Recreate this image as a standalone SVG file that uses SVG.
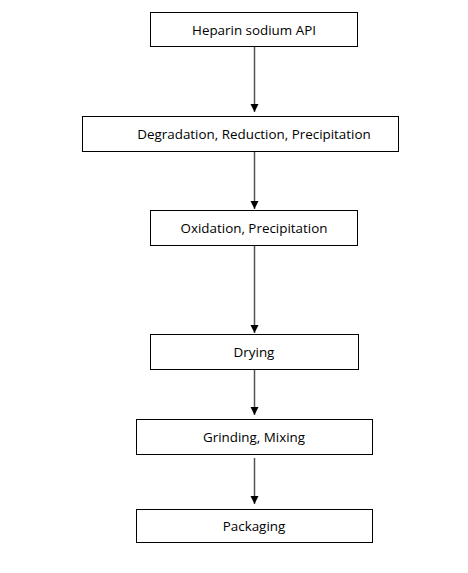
<svg xmlns="http://www.w3.org/2000/svg" width="468" height="573" viewBox="0 0 468 573">
<defs>
<marker id="ah" markerWidth="10" markerHeight="10" refX="8" refY="4" orient="auto" markerUnits="userSpaceOnUse">
<path d="M0,0 L8,4 L0,8 Z" fill="#000"/>
</marker>
<style>
.box{fill:#fff;stroke:#000;stroke-width:1}
.lbl{font-family:"Open Sans","Liberation Sans",sans-serif;font-size:13.4px;fill:#000;text-anchor:middle;dominant-baseline:central}
.conn{stroke:#555;stroke-width:1.5;fill:none}
</style>
</defs>
<rect width="468" height="573" fill="#fff"/>
<g id="connectors">
<line class="conn" x1="254.5" y1="44" x2="254.5" y2="112" marker-end="url(#ah)"/>
<line class="conn" x1="254.5" y1="151" x2="254.5" y2="209" marker-end="url(#ah)"/>
<line class="conn" x1="254.5" y1="245" x2="254.5" y2="333" marker-end="url(#ah)"/>
<line class="conn" x1="254.5" y1="369" x2="254.5" y2="415" marker-end="url(#ah)"/>
<line class="conn" x1="254.5" y1="458" x2="254.5" y2="504" marker-end="url(#ah)"/>
</g>
<g id="n1"><rect class="box" x="150.5" y="12.5" width="207" height="34"/><text class="lbl" x="254" y="30">Heparin sodium API</text></g>
<g id="n2"><rect class="box" x="82.5" y="116.5" width="316" height="35"/><text class="lbl" x="254" y="134">Degradation, Reduction, Precipitation</text></g>
<g id="n3"><rect class="box" x="150.5" y="210.5" width="207" height="35"/><text class="lbl" x="254" y="228">Oxidation, Precipitation</text></g>
<g id="n4"><rect class="box" x="150.5" y="334.5" width="208" height="35"/><text class="lbl" x="254" y="352">Drying</text></g>
<g id="n5"><rect class="box" x="136.5" y="419.5" width="236" height="35"/><text class="lbl" x="254" y="437">Grinding, Mixing</text></g>
<g id="n6"><rect class="box" x="136.5" y="509.5" width="236" height="33"/><text class="lbl" x="254" y="526">Packaging</text></g>
</svg>
